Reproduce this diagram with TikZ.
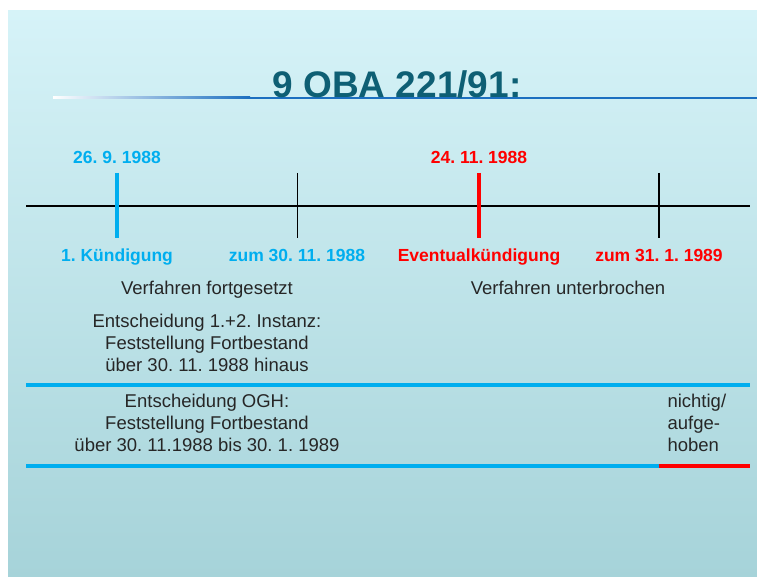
\documentclass[tikz,border=0pt]{standalone}
\usepackage{fontspec}
\setmainfont{Liberation Sans}
\frenchspacing
\definecolor{hblau}{HTML}{00AEEF}
\definecolor{hrot}{HTML}{FF0000}
\definecolor{titel}{HTML}{0E5F74}
\definecolor{linie}{HTML}{1C6FC0}
\definecolor{bgoben}{HTML}{D6F3F8}
\definecolor{bgunten}{HTML}{A6D3D9}

\begin{document}
\begin{tikzpicture}[x=1pt,y=-1pt,
  datum/.style={font=\fontsize{17.5}{19}\selectfont\bfseries, anchor=base},
  txt/.style={font=\fontsize{18.5}{22}\selectfont, text=black!85, align=center, anchor=base},
  balken/.style={line width=3.5pt}]
  \useasboundingbox (0,0) rectangle (757,577);
  \fill[white] (0,0) rectangle (757,577);
  \shade[top color=bgoben, bottom color=bgunten] (8,11) rectangle (757,577);
  % titel
  \shade[left color=white, right color=linie] (53,97) rectangle (250,99);
  \fill[linie] (250,97) rectangle (757,99);
  \node[titel, font=\fontsize{37}{40}\selectfont\bfseries, anchor=base] (titel) at (397,98) {9 OBA 221/91:};
  % zeitleiste
  \coordinate (links) at (26,206); \coordinate (rechts) at (750,206);
  \draw[line width=1.4pt] (links) -- (rechts);
  \foreach \n/\x/\c/\w in {a/117/hblau/3.5, b/297/black/0.8, c/479/hrot/3.5, d/659/black/1.5}
    \draw[\c, line width=\w pt] (\x,173) coordinate (\n o) -- (\x,238) coordinate (\n u);
  \node[datum, hblau] (d1) at (117,163.5) {26. 9. 1988};
  \node[datum, hrot] (d2) at (479,163.5) {24. 11. 1988};
  \node[datum, hblau] (e1) at (117,261.5) {1. Kündigung};
  \node[datum, hblau] (e2) at (297,261.5) {zum 30. 11. 1988};
  \node[datum, hrot] (e3) at (479,261.5) {Eventualkündigung};
  \node[datum, hrot] (e4) at (659,261.5) {zum 31. 1. 1989};
  \node[txt] (fort) at (207,294) {Verfahren fortgesetzt};
  \node[txt] (unter) at (568,294) {Verfahren unterbrochen};
  \node[txt] (inst) at (207,371) {Entscheidung 1.+2. Instanz:\\Feststellung Fortbestand\\über 30. 11. 1988 hinaus};
  \coordinate (l1) at (26,385); \coordinate (r1) at (750,385);
  \draw[balken, hblau] (l1) -- (r1);
  \node[txt] (ogh) at (207,451.5) {Entscheidung OGH:\\Feststellung Fortbestand\\über 30. 11.1988 bis 30. 1. 1989};
  \node[txt, align=left, anchor=base west] (nichtig) at (664,451.5) {nichtig/\\aufge-\\hoben};
  \coordinate (l2) at (26,466); \coordinate (m2) at (659,466); \coordinate (r2) at (750,466);
  \draw[balken, hblau] (l2) -- (m2);
  \draw[balken, hrot] (m2) -- (r2);
\end{tikzpicture}
\end{document}
